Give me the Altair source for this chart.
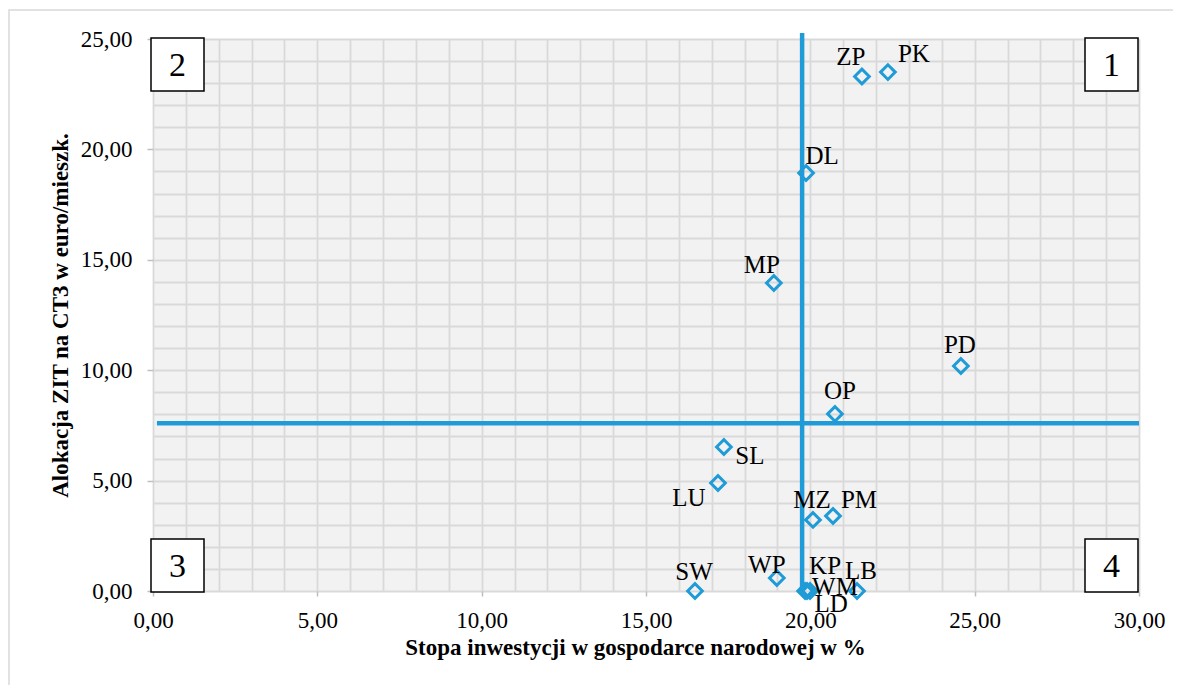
import altair as alt
import pandas as pd

# ---- data ----
LABELS = ["ZP", "PK", "DL", "MP", "PD", "OP", "SL", "LU", "MZ", "PM", "WP", "SW", "KP", "WM", "LD", "LB"]
INVEST = [21.57, 22.36, 19.87, 18.89, 24.58, 20.75, 17.37, 17.19, 20.08, 20.69, 18.98, 16.49, 19.84, 19.99, 19.90, 21.42]
ALLOC = [23.30, 23.50, 18.93, 13.95, 10.19, 8.02, 6.52, 4.89, 3.22, 3.40, 0.59, 0.00, 0.00, 0.00, 0.00, 0.00]
MEAN_INVEST = 19.75
MEAN_ALLOC = 7.60
X_TICKS = list(range(0, 31))
Y_TICKS = list(range(0, 26))
QUADRANTS = ["1", "2", "3", "4"]
X_TITLE = "Stopa inwestycji w gospodarce narodowej w %"
Y_TITLE = "Alokacja ZIT na CT3 w euro/mieszk."

# ---- styling / placement ----
FONT = "Liberation Serif"
BLUE = "#1f9bd7"
GRID = "#d9d9d9"
W, H = 986, 552
LABEL_OFFSETS = {
    "ZP": (-11, -20), "PK": (26, -18), "DL": (16, -17), "MP": (-12, -18),
    "PD": (-1, -21), "OP": (5, -23), "SL": (26, 9), "LU": (-29, 15),
    "MZ": (-1, -20), "PM": (26, -16), "WP": (-10, -13), "SW": (-1, -19),
    "KP": (20, -25), "WM": (25, -4), "LD": (24, 13), "LB": (4, -20),
}
BOXES = {"1": (932, -1), "2": (-2, -1), "3": (-2, 500), "4": (932, 500)}
BOX = 53

df = pd.DataFrame({"label": LABELS, "x": INVEST, "y": ALLOC})

lab_expr = "datum.value % 5 === 0 ? replace(format(datum.value, '.2f'), '.', ',') : ''"
tick_col = {"condition": {"test": "datum.value % 5 === 0", "value": "#bfbfbf"}, "value": "transparent"}

x_scale = alt.Scale(domain=[0, 30], nice=False, zero=False)
y_scale = alt.Scale(domain=[0, 25], nice=False, zero=False)

x_axis = alt.Axis(
    values=X_TICKS, grid=True, gridColor=GRID, gridWidth=1.8, domain=False,
    tickColor=tick_col, tickSize=5, tickWidth=1.5,
    labelExpr=lab_expr, labelFont=FONT, labelFontSize=23, labelColor="black",
    labelBaseline="alphabetic", labelPadding=31, labelFlush=False, labelOverlap=False,
    titleFont=FONT, titleFontSize=23, titleFontWeight="bold", titleColor="black",
    titleX=482, titleY=63, titleBaseline="alphabetic",
)
y_axis = alt.Axis(
    values=Y_TICKS, grid=True, gridColor=GRID, gridWidth=1.8, domain=False,
    tickColor=tick_col, tickSize=6, tickWidth=1.5,
    labelExpr=lab_expr, labelFont=FONT, labelFontSize=23, labelColor="black",
    labelPadding=15, labelFlush=False, labelOverlap=False,
    titleFont=FONT, titleFontSize=23, titleFontWeight="bold", titleColor="black",
    titleX=-86, titleY=276, titleBaseline="alphabetic", titleAngle=-90,
)


def xe(field="x"):
    return alt.X(f"{field}:Q", scale=x_scale, axis=x_axis, title=X_TITLE)


def ye(field="y"):
    return alt.Y(f"{field}:Q", scale=y_scale, axis=y_axis, title=Y_TITLE)


dummy = pd.DataFrame({"d": [0]})

frame = alt.Chart(dummy).mark_rect(fillOpacity=0, stroke=GRID, strokeWidth=1.5).encode(
    x=alt.value(-144), x2=alt.value(1100), y=alt.value(-29), y2=alt.value(700)
)

points = alt.Chart(df).mark_point(
    shape="diamond", filled=False, size=215, strokeWidth=3, color=BLUE, opacity=1
).encode(x=xe(), y=ye())

vrule = alt.Chart(pd.DataFrame({"x": [MEAN_INVEST], "y": [0.0], "y2": [25.27]})).mark_rule(
    color=BLUE, strokeWidth=4.5
).encode(x=xe(), y=ye(), y2="y2:Q")

hrule = alt.Chart(pd.DataFrame({"x": [0.12], "x2": [30.0], "y": [MEAN_ALLOC]})).mark_rule(
    color=BLUE, strokeWidth=4.5
).encode(x=xe(), x2="x2:Q", y=ye())

label_layers = []
for lab in LABELS:
    dx, dy = LABEL_OFFSETS[lab]
    label_layers.append(
        alt.Chart(df).transform_filter(alt.datum.label == lab).mark_text(
            font=FONT, fontSize=25, color="black", align="center",
            baseline="alphabetic", dx=dx, dy=dy + 8
        ).encode(x=xe(), y=ye(), text="label:N")
    )

box_layers = []
for q in QUADRANTS:
    bx, by = BOXES[q]
    qdf = pd.DataFrame({"q": [q]})
    box_layers.append(
        alt.Chart(qdf).mark_rect(fill="white", stroke="black", strokeWidth=1.5).encode(
            x=alt.value(bx), x2=alt.value(bx + BOX), y=alt.value(by), y2=alt.value(by + BOX)
        )
    )
    box_layers.append(
        alt.Chart(qdf).mark_text(font=FONT, fontSize=34, color="black", align="center",
                                 baseline="alphabetic").encode(
            x=alt.value(bx + BOX / 2), y=alt.value(by + BOX / 2 + 11.5), text="q:N"
        )
    )

chart = alt.layer(
    points, vrule, hrule, frame, *label_layers, *box_layers
).properties(
    width=W, height=H,
    autosize=alt.AutoSizeParams(type="none"),
    padding={"left": 145, "top": 31, "right": 34, "bottom": 94},
    background="white",
).configure_view(fill="#f2f2f2", strokeWidth=0)

chart.save("out.html", embed_options={"renderer": "svg", "actions": False})
